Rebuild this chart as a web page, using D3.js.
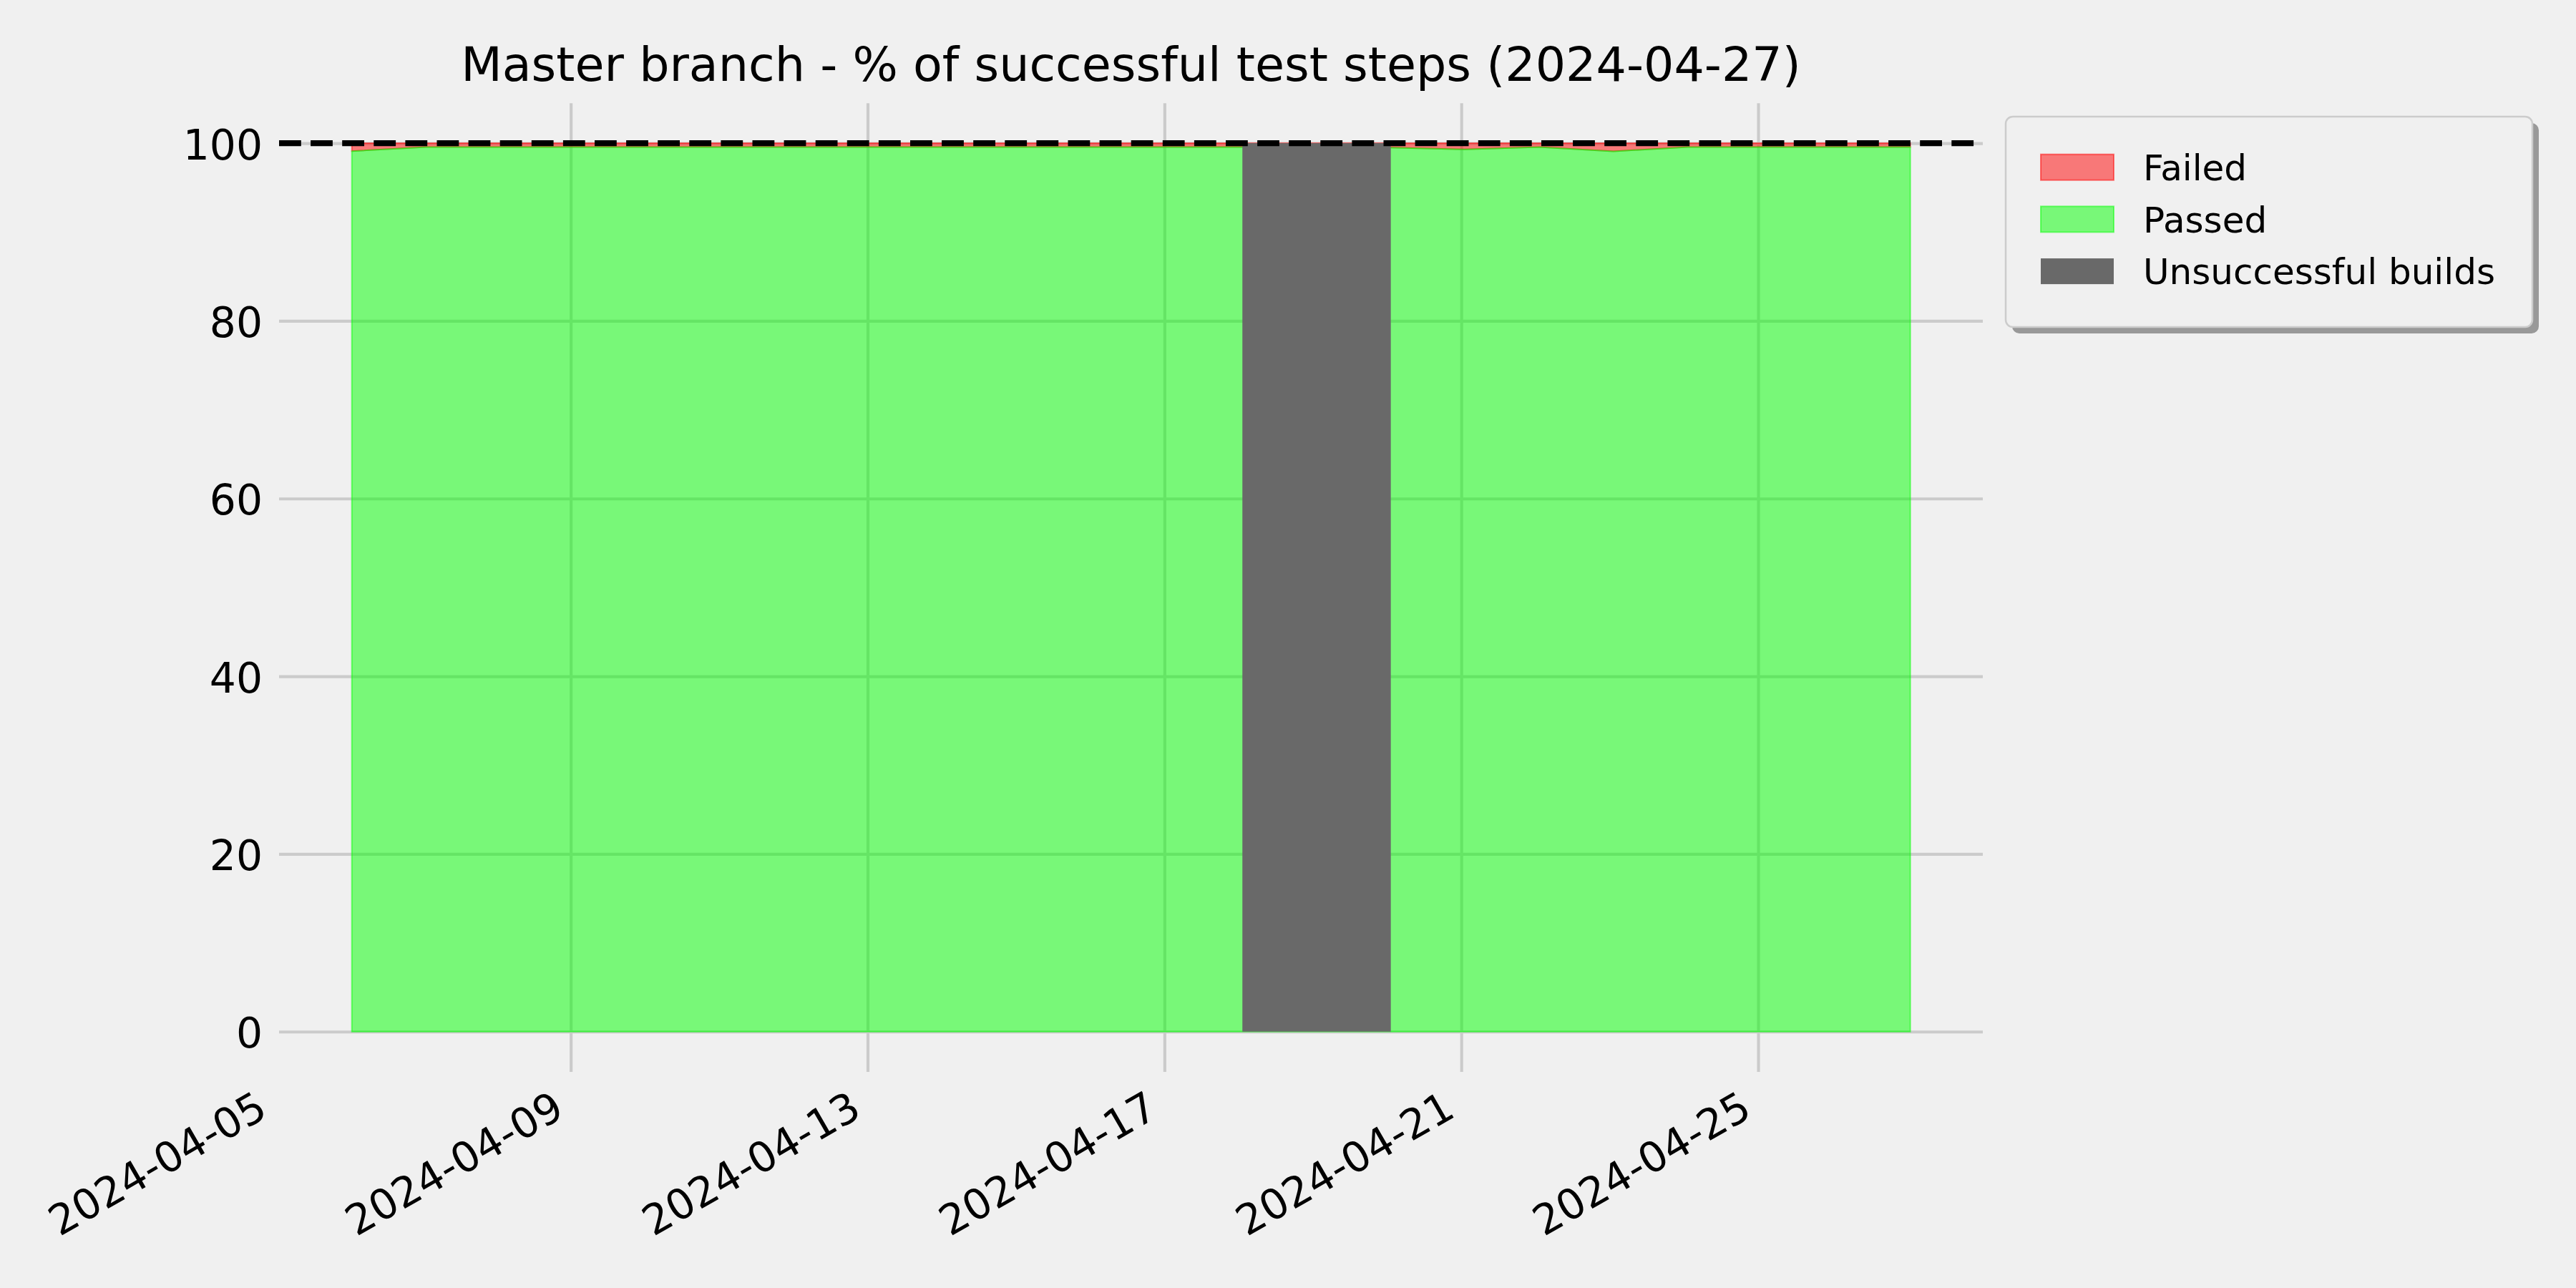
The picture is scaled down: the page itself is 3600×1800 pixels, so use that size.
<!DOCTYPE html>
<html><head><meta charset="utf-8">
<script src="https://cdn.jsdelivr.net/npm/d3@7"></script>
<style>
body{margin:0;background:#f0f0f0;}
svg{display:block;font-family:"DejaVu Sans",sans-serif;}
</style>
</head><body>
<svg id="chart" width="3600" height="1800"></svg>
<script>
// ---- data ----
const dates = ["2024-04-06","2024-04-07","2024-04-08","2024-04-09","2024-04-10","2024-04-11",
  "2024-04-12","2024-04-13","2024-04-14","2024-04-15","2024-04-16","2024-04-17","2024-04-18",
  "2024-04-19","2024-04-20","2024-04-21","2024-04-22","2024-04-23","2024-04-24","2024-04-25",
  "2024-04-26","2024-04-27"];
const passed = [99.1, 99.56, 99.56, 99.56, 99.56, 99.56, 99.56, 99.56, 99.56, 99.56, 99.56, 99.56,
  99.56, 99.56, 99.5, 99.3, 99.56, 99.08, 99.56, 99.56, 99.56, 99.56];
const failed = [0.9, 0.44, 0.44, 0.44, 0.44, 0.44, 0.44, 0.44, 0.44, 0.44, 0.44, 0.44,
  0.44, 0.44, 0.5, 0.7, 0.44, 0.92, 0.44, 0.44, 0.44, 0.44];
const unsuccessfulBuilds = [["2024-04-18", "2024-04-20"]];
const xTickLabels = ["2024-04-05","2024-04-09","2024-04-13","2024-04-17","2024-04-21","2024-04-25"];
const yTicks = [0, 20, 40, 60, 80, 100];
const targetLine = 100;
const titleText = "Master branch - % of successful test steps (2024-04-27)";
const legendLabels = ["Failed", "Passed", "Unsuccessful builds"];

(function draw() {
// ---- layout ----
const svg = d3.select("#chart");
const W = 3600, H = 1800;
const pLeft = 390, pRight = 2771, pTop = 144.3, pBottom = 1498;
const buildTime = d => new Date(d + "T01:12:00Z");
const dayStart = d => new Date(d + "T00:00:00Z");

const x = d3.scaleUtc()
  .domain([new Date(Date.UTC(2024, 3, 5, 1, 40)), new Date(Date.UTC(2024, 3, 28, 0, 39))])
  .range([pLeft, pRight]);
const y = d3.scaleLinear().domain([-4.53, 104.49]).range([pBottom, pTop]);

svg.append("rect").attr("width", W).attr("height", H).attr("fill", "#f0f0f0");

const fs = 58.3;
// grid + y axis
const yAxis = d3.axisLeft(y).tickValues(yTicks).tickSize(-(pRight - pLeft)).tickPadding(0).tickFormat(d3.format("d"));
const gy = svg.append("g").attr("transform", `translate(${pLeft},0)`).call(yAxis);
gy.select(".domain").remove();
gy.selectAll(".tick line").attr("stroke", "#cbcbcb").attr("stroke-width", 4.17);
gy.selectAll(".tick text").attr("x", -23).attr("dy", null).attr("y", 22)
  .attr("font-size", fs).attr("fill", "#000").attr("text-anchor", "end")
  .attr("font-family", "DejaVu Sans");

// x axis
const xAxis = d3.axisBottom(x).tickValues(xTickLabels.map(dayStart)).tickSize(0).tickFormat(d3.utcFormat("%Y-%m-%d"));
const gx = svg.append("g").attr("transform", `translate(0,${pBottom})`).call(xAxis);
gx.select(".domain").remove();
gx.selectAll(".tick").each(function(d) {
  const t = d3.select(this);
  const px = x(d);
  if (px >= pLeft && px <= pRight) {
    t.append("line").attr("y1", 0).attr("y2", -(pBottom - pTop))
      .attr("stroke", "#cbcbcb").attr("stroke-width", 4.17);
  }
  t.select("text").attr("y", 0).attr("dy", null)
    .attr("transform", `translate(-6.7,61) rotate(-30)`)
    .attr("text-anchor", "end").attr("font-size", fs).attr("fill", "#000")
    .attr("font-family", "DejaVu Sans");
});

// data rows
const rows = dates.map((d, i) => ({date: buildTime(d), passed: passed[i], failed: failed[i]}));

// failed area (stacked on passed)
const failedArea = d3.area().x(d => x(d.date)).y0(d => y(d.passed)).y1(d => y(d.passed + d.failed));
svg.append("path").datum(rows).attr("d", failedArea)
  .attr("fill", "red").attr("fill-opacity", 0.5)
  .attr("stroke", "red").attr("stroke-opacity", 0.5).attr("stroke-width", 2);

// passed area
const passedArea = d3.area().x(d => x(d.date)).y0(y(0)).y1(d => y(d.passed));
svg.append("path").datum(rows).attr("d", passedArea)
  .attr("fill", "lime").attr("fill-opacity", 0.5)
  .attr("stroke", "lime").attr("stroke-opacity", 0.5).attr("stroke-width", 2);

// unsuccessful builds
svg.selectAll("rect.unsucc").data(unsuccessfulBuilds).join("rect").attr("class", "unsucc")
  .attr("x", d => x(buildTime(d[0])))
  .attr("width", d => x(buildTime(d[1])) - x(buildTime(d[0])))
  .attr("y", y(100)).attr("height", y(0) - y(100))
  .attr("fill", "#696969");

// target line
svg.append("line").attr("x1", pLeft).attr("x2", pRight)
  .attr("y1", y(targetLine)).attr("y2", y(targetLine))
  .attr("stroke", "#000").attr("stroke-width", 8.33).attr("stroke-dasharray", "30.8,13.3");

// title
svg.append("text").attr("x", (pLeft + pRight) / 2).attr("y", 113)
  .attr("text-anchor", "middle").attr("font-size", 66.7).attr("fill", "#000")
  .text(titleText);

// legend
const lg = svg.append("g");
const lx = 2803, ly = 163, lw = 736, lh = 294;
lg.append("rect").attr("x", lx + 9).attr("y", ly + 9).attr("width", lw).attr("height", lh)
  .attr("rx", 10).attr("fill", "#999");
lg.append("rect").attr("x", lx).attr("y", ly).attr("width", lw).attr("height", lh)
  .attr("rx", 10).attr("fill", "#f0f0f0").attr("stroke", "#cccccc").attr("stroke-width", 2.5);
const legendStyles = [
  {fill: "red", fo: 0.5, stroke: "red", so: 0.5},
  {fill: "lime", fo: 0.5, stroke: "lime", so: 0.5},
  {fill: "#696969", fo: 1, stroke: "none", so: 0}
];
legendLabels.forEach((lab, i) => {
  const py = 215.7 + i * 72.7;
  const s = legendStyles[i];
  lg.append("rect").attr("x", 2852).attr("y", py).attr("width", 102).attr("height", 36)
    .attr("fill", s.fill).attr("fill-opacity", s.fo)
    .attr("stroke", s.stroke).attr("stroke-opacity", s.so).attr("stroke-width", 2);
  lg.append("text").attr("x", 2995).attr("y", py + 18 + 18.2)
    .attr("font-size", 50).attr("fill", "#000").text(lab);
});
})();
</script>
</body></html>
